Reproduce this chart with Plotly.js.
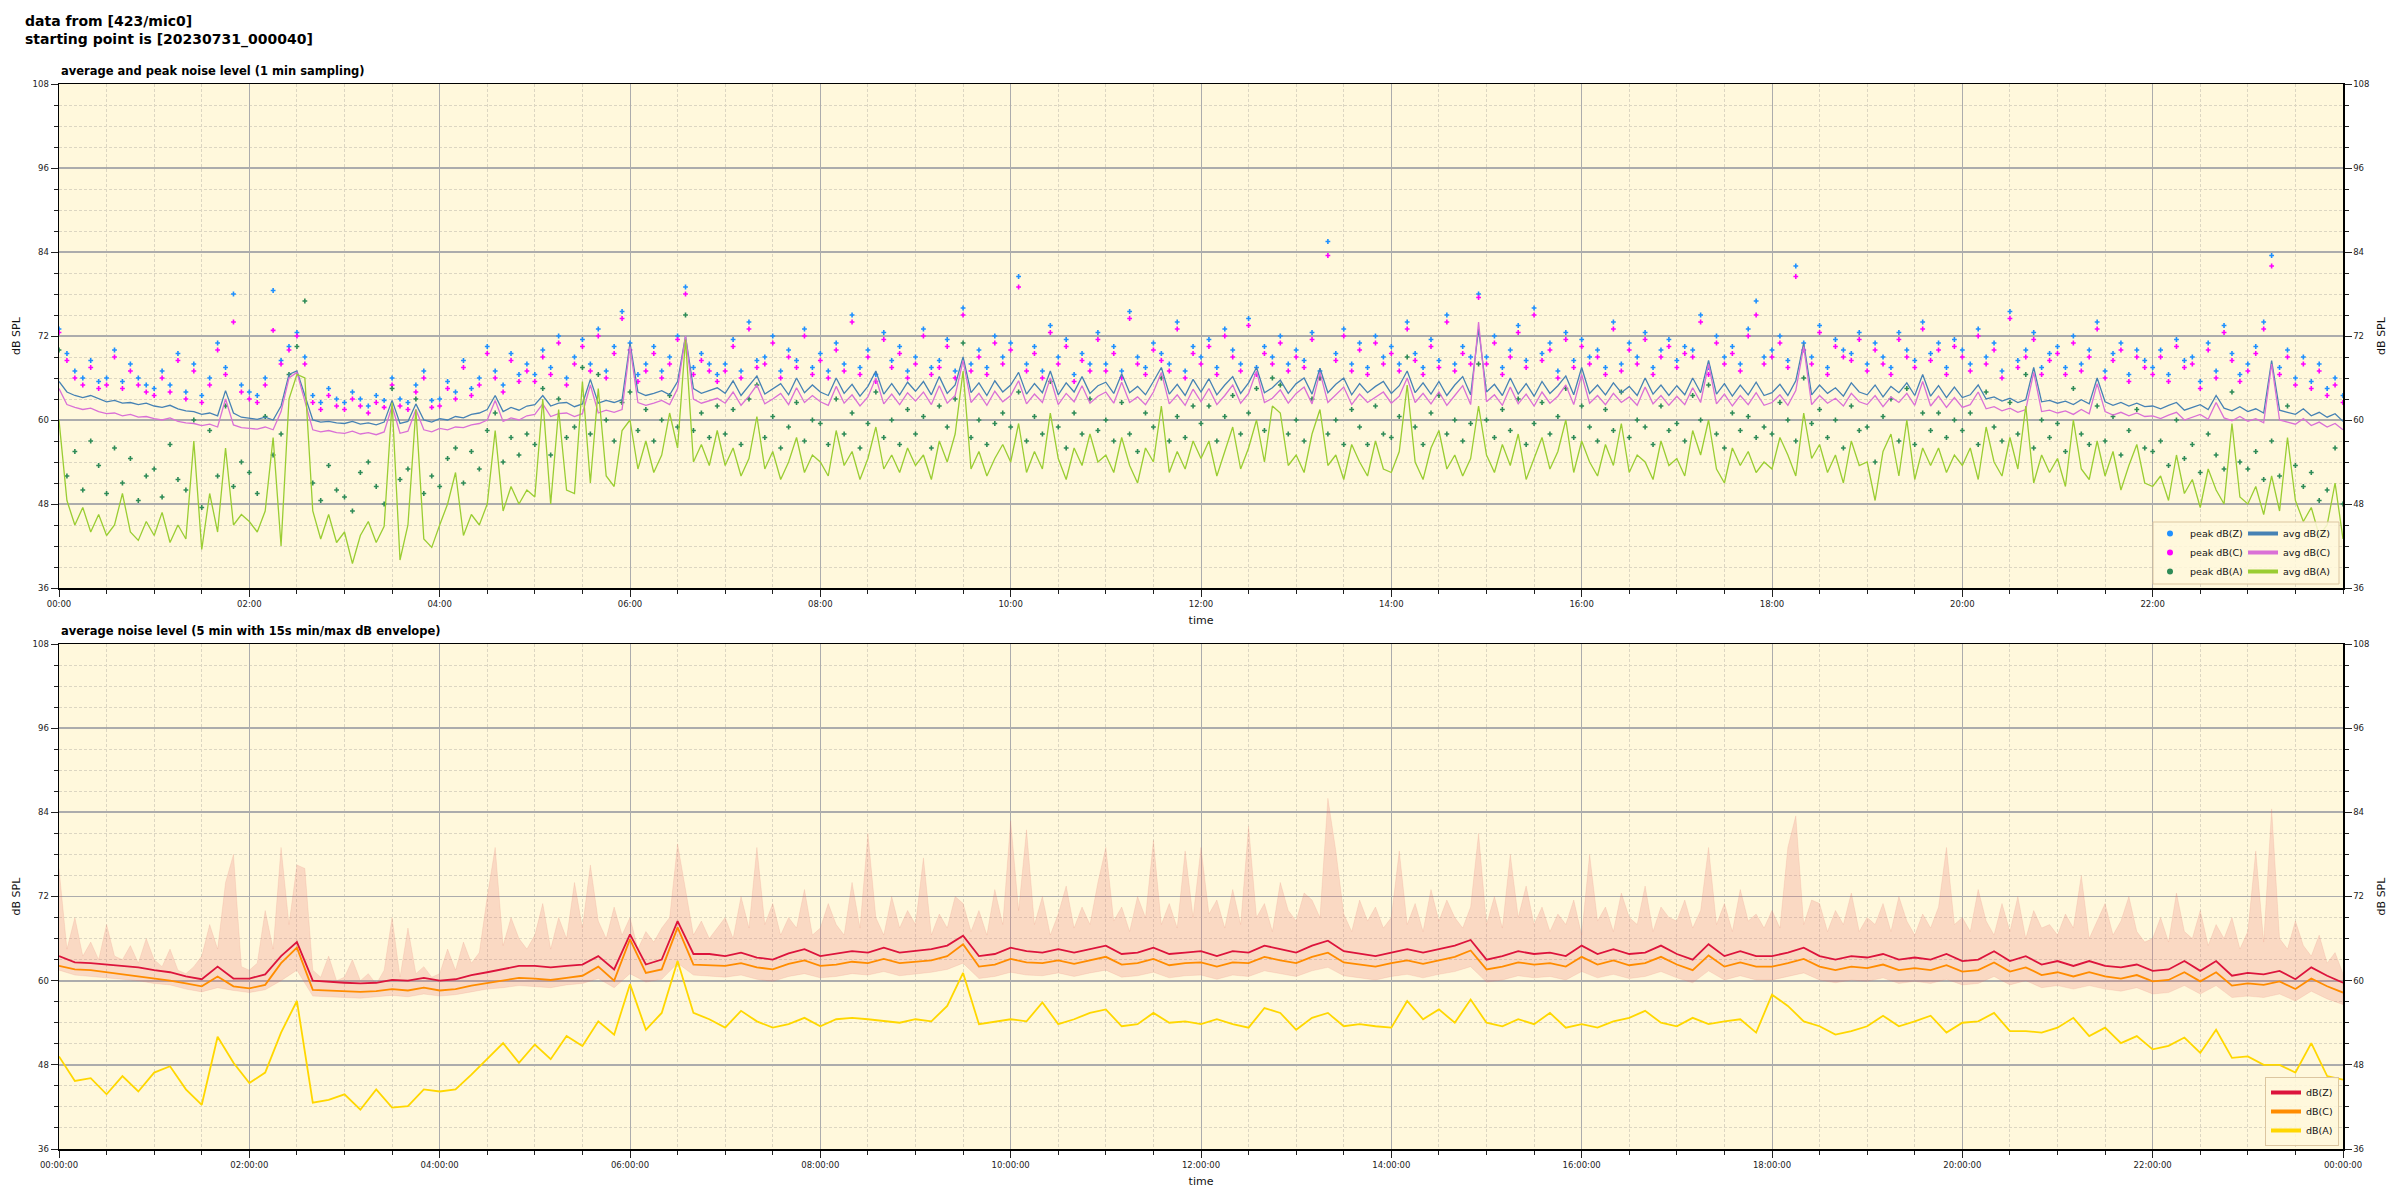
<!DOCTYPE html>
<html><head><meta charset="utf-8">
<script src="https://cdn.plot.ly/plotly-3.0.1.min.js"></script>
<style>html,body{margin:0;padding:0;background:#fff}#chart{width:2400px;height:1200px}</style>
</head><body><div id="chart"></div>
<script>
// ---------- tick labels ----------
const topTickVals = [0,120,240,360,480,600,720,840,960,1080,1200,1320];
const topTickText = ['00:00','02:00','04:00','06:00','08:00','10:00','12:00','14:00','16:00','18:00','20:00','22:00'];
const botTickVals = [0,120,240,360,480,600,720,840,960,1080,1200,1320,1440];
const botTickText = ['00:00:00','02:00:00','04:00:00','06:00:00','08:00:00','10:00:00','12:00:00','14:00:00','16:00:00','18:00:00','20:00:00','22:00:00','00:00:00'];
const yTickVals = [36,48,60,72,84,96,108];

// ---------- top chart: 5-minute samples (minutes from 00:00) ----------
const topStep = 5;
const avgZ = [
65.5,64,63.5,63.2,63.5,63,62.6,62.8,62.4,62.5,62.2,62.4,
62,61.8,62.1,61.6,61.3,61.2,60.8,61.0,60.6,64.2,61.0,60.4,
60.3,60.1,60.4,60.0,62.0,66.5,67.0,63.5,60.0,59.7,59.8,59.6,
59.5,59.8,59.4,59.6,59.3,59.7,62.8,59.5,59.8,62.3,60.0,59.7,
60.2,60.0,60.5,60.3,60.8,61.0,61.5,63.5,61.2,61.8,61.4,62.0,
62.2,63.5,62.0,62.4,62.5,61.9,62.3,65.8,62.4,62.8,62.5,62.9,
71.0,64.0,63.5,63.8,64.2,63.6,65.5,72.0,64.5,63.8,64.2,64.6,
63.8,65.6,63.5,64.9,66.3,63.7,64.5,65.2,63.6,66.0,63.9,65.0,
64.0,63.5,66.0,63.8,65.1,63.4,64.8,67.0,63.7,65.2,63.6,65.4,
64.1,65.5,63.6,66.2,63.8,65.0,69.0,63.9,65.3,63.5,65.6,64.0,
65.0,66.8,63.7,65.2,63.9,67.0,63.6,65.3,64.0,66.2,63.8,64.9,
65.4,63.8,66.6,63.9,64.8,63.6,65.5,67.5,63.7,65.1,63.5,65.8,
64.0,65.9,63.6,65.0,66.2,63.8,65.3,67.5,63.9,64.6,65.7,63.8,
65.2,66.0,63.7,67.4,63.9,65.1,66.0,63.6,65.2,63.9,64.8,65.5,
63.8,64.9,67.0,63.9,65.3,63.7,65.5,63.5,65.0,66.2,63.6,73.0,
64.0,65.1,63.5,66.0,63.7,65.2,63.4,65.5,63.8,64.9,66.3,63.6,
67.5,63.8,65.0,63.6,65.3,63.9,64.8,63.5,66.0,63.7,65.0,63.5,
64.9,63.6,66.0,63.9,68.5,63.7,65.2,63.4,65.0,63.6,65.4,63.5,
63.9,65.1,63.5,65.6,71.0,63.6,65.0,63.8,64.6,63.4,65.3,64.0,
63.6,65.0,63.3,64.8,63.9,65.3,63.5,66.5,63.4,64.9,63.2,64.7,
63.2,63.6,65.0,63.0,63.3,62.7,63.1,62.5,62.9,67.5,62.6,62.8,
62.4,62.7,62.2,62.9,62.3,66.0,62.6,62.1,62.5,62.0,62.4,61.9,
62.0,61.6,62.1,62.5,61.4,61.8,62.2,61.5,63.5,61.7,61.3,61.9,
61.2,61.6,61.0,68.5,61.4,61.1,60.8,61.6,60.6,61.1,60.4,60.9,59.8];
const avgC = [
64.5,62.2,61.8,61.5,61.7,61.2,60.9,61.0,60.6,60.8,60.4,60.5,
60.2,60.0,60.3,59.8,59.6,59.5,59.2,59.4,59.0,63.0,59.3,58.9,
58.8,58.7,59.0,58.6,61.2,66.0,66.8,62.5,58.6,58.3,58.5,58.2,
58.1,58.4,58.0,58.2,57.9,58.3,62.0,58.1,58.4,61.5,58.6,58.3,
58.8,58.6,59.0,58.9,59.3,59.5,60.0,62.8,59.8,60.3,60.0,60.6,
60.8,62.3,60.5,60.9,61.0,60.5,60.9,65.0,61.0,61.4,61.1,61.5,
70.5,62.5,62.1,62.4,62.8,62.2,64.5,72.0,63.0,62.4,62.8,63.1,
62.4,64.0,62.1,63.4,65.0,62.3,63.0,63.8,62.2,64.6,62.5,63.5,
62.6,62.1,64.8,62.4,63.6,62.0,63.3,66.0,62.3,63.7,62.2,63.9,
62.7,64.0,62.2,64.9,62.4,63.5,68.5,62.5,63.8,62.1,64.1,62.6,
63.5,65.6,62.3,63.7,62.5,66.0,62.2,63.8,62.6,64.9,62.4,63.4,
64.0,62.4,65.4,62.5,63.3,62.2,64.0,66.8,62.3,63.6,62.1,64.4,
62.6,64.5,62.2,63.5,65.0,62.4,63.8,67.0,62.5,63.1,64.3,62.4,
63.8,64.7,62.3,66.8,62.5,63.6,64.7,62.2,63.7,62.5,63.3,64.0,
62.4,63.4,66.0,62.5,63.8,62.3,64.0,62.1,63.5,64.9,62.2,74.0,
62.6,63.6,62.1,64.7,62.3,63.7,62.0,64.0,62.4,63.4,65.0,62.2,
66.5,62.4,63.5,62.2,63.8,62.5,63.3,62.1,64.7,62.3,63.5,62.1,
63.4,62.2,64.6,62.5,68.0,62.3,63.7,62.0,63.5,62.2,63.9,62.1,
62.5,63.6,62.1,64.2,70.5,62.2,63.5,62.4,63.1,62.0,63.8,62.6,
62.2,63.5,61.9,63.3,62.5,63.8,62.1,65.5,62.0,63.4,61.8,63.2,
61.8,62.2,64.0,61.6,61.9,61.3,61.7,61.1,61.5,66.8,61.2,61.4,
61.0,61.3,60.8,61.5,60.9,65.2,61.2,60.7,61.1,60.6,61.0,60.5,
60.6,60.2,60.7,61.1,60.0,60.4,60.8,60.1,62.5,60.3,59.9,60.5,
59.8,60.2,59.6,68.0,60.0,59.7,59.4,60.2,59.2,59.7,59.0,59.5,58.6];
const avgA = [
60,48.5,45.0,47.5,44.0,46.5,43.5,45.0,49.5,44.0,42.8,45.5,
43.5,46.8,42.5,45.0,43.0,57.0,41.5,49.5,44.0,56.0,45.0,46.5,
45.5,44.0,47.0,57.5,42.0,63.0,66.5,66.0,47.0,43.0,46.5,42.5,
44.0,39.5,43.5,45.5,42.5,44.8,62.5,40.0,45.0,61.5,43.0,41.8,
45.0,48.0,52.5,43.5,46.5,45.0,48.0,58.5,47.0,50.5,48.0,50.0,
49.0,63.0,48.0,61.5,50.0,49.5,65.5,51.0,64.5,52.0,50.5,58.5,
60.0,53.0,57.0,52.5,55.0,61.0,56.0,71.5,54.0,56.5,53.5,58.5,
53.5,56.0,52.0,54.5,60.5,53.0,55.5,51.5,54.0,57.5,52.5,55.0,
54.0,52.0,58.5,53.5,55.5,51.5,54.5,59.0,53.0,55.0,52.5,56.0,
53.5,55.0,51.5,57.0,54.0,58.0,67.0,53.0,55.5,52.0,54.5,56.5,
54.0,59.5,52.5,55.5,53.0,61.0,54.5,51.5,56.0,53.5,58.0,54.0,
55.0,52.5,57.5,53.5,51.0,56.0,54.0,62.0,52.5,55.5,53.0,57.0,
54.5,57.0,52.0,55.5,59.0,53.0,56.0,60.0,54.0,62.0,61.0,53.5,
55.0,52.5,58.0,61.5,53.5,55.0,51.5,56.5,54.0,52.0,57.0,53.0,
52.5,55.5,65.0,54.0,51.5,56.0,58.5,53.0,55.0,52.0,54.5,62.0,
55.0,52.5,56.5,53.5,58.0,51.5,54.5,57.5,53.0,55.5,60.0,52.5,
57.0,54.0,52.0,56.5,53.5,59.5,52.5,55.0,54.0,51.5,57.0,53.5,
54.5,52.0,58.5,55.0,60.0,53.0,51.0,56.0,53.5,55.5,52.5,54.0,
53.0,57.5,55.0,52.0,61.0,54.5,56.5,52.5,55.0,51.0,57.0,53.5,
54.0,48.5,55.5,58.0,52.0,60.0,51.5,56.0,53.5,56.0,52.5,55.0,
53.5,56.0,51.5,59.0,54.0,52.0,57.5,53.0,62.0,51.0,55.0,52.5,
54.5,50.5,60.0,53.0,51.5,57.0,52.0,55.5,50.0,53.5,56.5,51.0,
50.5,52.0,48.5,55.0,49.5,51.5,47.5,53.0,50.0,48.0,59.5,49.0,
48.0,50.5,46.5,52.0,47.0,57.5,48.5,45.5,47.5,43.5,45.0,51.0,43.0];
const peakZ = [
73,69.5,67,66,68.5,65.5,66,70,65.5,68,66,65,
64.5,67,65,69.5,64,68,63.5,66,71,67.5,78,65,
64,63.5,66,78.5,68.5,70.5,72.5,69,63.5,62.5,64.5,63,
62.5,64,63,62,63.5,62.8,66,63,62.5,65,67,62.8,
63,65.5,64,68.5,64.5,66,70.5,67,65,69.5,66.5,68,
66.5,70,67.5,72,66,69,71.5,68,73,67,70.5,75.5,
71,66.5,68,70.5,67,69,72,79,67.5,69.5,68,66.5,
68,71.5,67,74,68.5,69,72,67,70,68.5,73,67.5,
69.5,67,71,68,75,67.5,70,66.5,72.5,68.5,70.5,67,
69,73,67.5,68.5,71.5,67,76,68,70,67.5,72,69,
71,80.5,68,70.5,67,73.5,69,71.5,66.5,69.5,68,72.5,
68,70.5,67,75.5,69,67.5,71,69.5,68,74,67,70.5,
69,71.5,67.5,73,70,68,74.5,67.5,70.5,69,72,68,
70,68.5,72.5,67,85.5,69.5,73,68,71,67.5,72,69,
70.5,68,74,69.5,67.5,71.5,68.5,75,68,70.5,69,78,
69,72,67.5,70,73.5,68.5,76,69.5,71,67,72.5,68.5,
71.5,69,70,67.5,74,68,71,69,72.5,67.5,70,71.5,
68.5,70.5,70,75,67.5,72,69,70.5,68,73,77,69,
70,72,68.5,82,71,69,73.5,67.5,71.5,70,69.5,72.5,
68,71,69,67.5,72.5,70,68.5,74,69.5,71,67.5,71.5,
70,68,73,69,71,67,75.5,68.5,70,72.5,67.5,69.5,
70.5,67.5,72,68,70,74,67,69.5,71,66.5,70,68.5,
67.5,70,66.5,71.5,68.5,69,65.5,71,67,73.5,69.5,66.5,
68,70.5,74,83.5,67.5,70,66,69,65.5,68,64.5,66,63.5];
const peakC = [
72.5,68.5,66,65,67.5,64.5,65,69,64.5,67,65,64,
63.5,66,64,68.5,63,67,62.5,65,70,66.5,74,64,
63,62.5,65,72.8,68,70,72,68,62.5,61.5,63.5,62,
61.5,63,62,61,62.5,61.8,65,62,61.5,64,66,61.8,
62,64.5,63,67.5,63.5,65,69.5,66,64,68.5,65.5,67,
65.5,69,66.5,71,65,68,70.5,67,72,66,69.5,74.5,
70,65.5,67,69.5,66,68,71.5,78,66.5,68.5,67,65.5,
67,70.5,66,73,67.5,68,71,66,69,67.5,72,66.5,
68.5,66,70,67,74,66.5,69,65.5,71.5,67.5,69.5,66,
68,72,66.5,67.5,70.5,66,75,67,69,66.5,71,68,
70,79,67,69.5,66,72.5,68,70.5,65.5,68.5,67,71.5,
67,69.5,66,74.5,68,66.5,70,68.5,67,73,66,69.5,
68,70.5,66.5,72,69,67,73.5,66.5,69.5,68,71,67,
69,67.5,71.5,66,83.5,68.5,72,67,70,66.5,71,68,
69.5,67,73,68.5,66.5,70.5,67.5,74,67,69.5,68,77.5,
68,71,66.5,69,72.5,67.5,75,68.5,70,66,71.5,67.5,
70.5,68,69,66.5,73,67,70,68,71.5,66.5,69,70.5,
67.5,69.5,69,74,66.5,71,68,69.5,67,72,75,68,
69,71,67.5,80.5,70,68,72.5,66.5,70.5,69,68.5,71.5,
67,70,68,66.5,71.5,69,67.5,73,68.5,70,66.5,70.5,
69,67,72,68,70,66,74.5,67.5,69,71.5,66.5,68.5,
69.5,66.5,71,67,69,73,66,68.5,70,65.5,69,67.5,
66.5,69,65.5,70.5,67.5,68,64.5,70,66,72.5,68.5,65.5,
67,69.5,73,82,66.5,69,65,68,64.5,67,63.5,65,62.5];
const peakA = [
70,52,55.5,50,57,53.5,49.5,56,51,54.5,48.5,52,
53,49,56.5,51.5,50,60,47.5,58.5,52,62,50.5,54,
52.5,49.5,60.5,55,58,66.5,70.5,77,51,48.5,53.5,50,
49,47,52.5,54,50.5,48,64.5,51.5,53,63,49.5,52,
50.5,54.5,56,51,55.5,53,58.5,61,54,57.5,55,58,
56.5,64.5,55,63,57.5,59,67.5,58,66.5,60,57,62.5,
64,58.5,61.5,57,60,63.5,59,75,58.5,61,57.5,62,
58,61.5,56.5,63,65,57.5,60.5,56,59,62.5,57,60,
59.5,56.5,63,58,61,56,59.5,64,57.5,60,56.5,61.5,
58,60.5,56,62,59,63,71,57.5,60,56.5,59.5,61,
59,64,57,60.5,58,65.5,59,56,61,58,63,58.5,
60,57,62.5,58,55.5,61,59,66,57,60.5,57.5,62,
59.5,62,57,60.5,63.5,58,61,64.5,58.5,66,65,58,
60,57,63,66,58,60,56.5,61.5,59,56.5,62,58,
57.5,60.5,69,59,56.5,61,63.5,58,60,57,59.5,68,
60,57.5,61.5,58.5,63,56.5,59.5,62.5,58,60.5,64.5,57.5,
62,59,57,61.5,58.5,64,57.5,60,59,56.5,62,58.5,
59.5,57,63.5,60,65,58,56,61,58.5,60.5,57.5,59,
58,62.5,60,57,66,59.5,61.5,57.5,60,56,62,58.5,
59,54,60.5,63,57,64.5,56.5,61,58.5,61,57.5,60,
58.5,61,56.5,64,59,57,62.5,58,66.5,56,60,57.5,
59.5,55.5,64.5,58,56.5,62,57,60.5,55,58.5,61.5,56,
55.5,57,53.5,60,54.5,56.5,52.5,58,55,53,64,54,
53,55.5,51.5,57,52,62,53.5,50.5,52.5,48.5,50,56,48];

// ---------- bottom chart: 10-minute averages ----------
const botStep = 10;
const levZ = [
63.5,62.6,62.5,62.3,62.1,61.9, 61.5,61.2,60.6,60.2,62.0,60.3,
60.3,60.9,63.5,65.5,60.0,59.8, 59.7,59.6,59.7,60.1,60.0,60.4,
60.0,60.2,60.8,61.2,61.6,62.1, 62.1,61.9,62.1,62.3,63.5,61.6,
66.6,62.3,63.0,68.5,63.8,63.8, 63.5,64.0,63.3,63.0,63.9,64.5,
63.5,63.8,64.2,64.0,64.7,64.0, 64.2,64.5,65.0,66.4,63.5,63.8,
64.7,64.2,64.0,64.5,64.0,64.5, 65.0,63.8,64.0,64.7,63.8,64.0,
64.2,63.5,64.2,64.0,65.0,64.5, 64.0,65.0,65.7,64.2,63.8,63.5,
64.0,64.5,64.0,64.5,65.0,65.8, 63.0,63.5,64.2,63.8,64.0,63.5,
65.0,63.8,64.5,63.8,64.0,65.0, 63.8,63.0,65.2,63.5,64.2,63.5,
63.5,64.0,64.7,63.5,63.0,63.5, 63.3,63.8,63.0,63.3,63.0,63.8,
62.8,63.0,64.2,62.8,63.5,62.3, 62.8,62.1,62.8,62.1,61.9,62.3,
61.4,61.6,62.8,61.4,62.8,60.7, 61.1,60.9,61.4,60.2,61.9,60.7,59.7];
const levC = [
62.1,61.6,61.5,61.2,61.0,60.7, 60.3,60.0,59.6,59.2,60.6,59.2,
58.9,59.4,62.5,64.7,58.7,58.6, 58.5,58.4,58.5,58.8,58.6,59.0,
58.6,58.8,59.3,59.7,60.0,60.4, 60.3,60.1,60.4,60.7,62.0,60.0,
65.9,61.1,61.6,67.6,62.3,62.2, 62.1,62.5,61.9,61.6,62.4,62.9,
62.1,62.3,62.7,62.5,63.1,62.5, 62.7,62.9,63.5,65.2,62.0,62.3,
63.1,62.6,62.5,62.9,62.4,62.9, 63.4,62.3,62.5,63.1,62.2,62.5,
62.6,62.0,62.6,62.5,63.4,62.9, 62.5,63.4,64.0,62.6,62.3,62.0,
62.5,62.9,62.4,62.9,63.4,64.3, 61.6,62.0,62.6,62.3,62.5,62.0,
63.4,62.3,62.9,62.2,62.5,63.4, 62.3,61.5,63.6,62.0,62.6,62.0,
62.0,62.5,63.1,62.0,61.5,62.0, 61.8,62.3,61.5,61.8,61.5,62.2,
61.3,61.5,62.6,61.3,61.9,60.8, 61.2,60.6,61.2,60.6,60.3,60.8,
59.9,60.1,61.2,59.9,61.2,59.3, 59.6,59.4,59.9,58.8,60.3,59.2,58.3];
const levA = [
49.2,45.7,46.1,43.8,46.4,44.2, 46.9,47.8,44.5,42.3,52.0,48.3,
45.4,46.9,52.6,57.1,42.6,43.0, 43.8,41.6,44.5,41.9,42.1,44.5,
44.2,44.5,46.6,48.8,51.1,48.3, 50.9,48.8,52.1,50.7,54.2,52.3,
59.5,53.0,55.4,62.8,55.4,54.5, 53.3,55.7,54.2,53.3,53.8,54.7,
53.5,54.5,54.7,54.5,54.2,54.0, 54.5,54.2,56.4,61.1,53.8,54.2,
54.5,54.2,56.9,53.8,54.5,55.4, 55.9,53.5,53.8,55.4,54.0,54.2,
53.8,54.5,53.8,53.3,56.1,55.4, 53.0,54.7,55.4,53.5,53.8,53.5,
53.3,57.1,54.5,55.9,54.0,57.3, 54.0,53.5,54.5,53.8,55.4,53.3,
53.8,53.3,54.2,54.7,55.7,54.0, 53.5,54.7,53.8,54.2,54.5,52.6,
58.0,56.4,54.2,53.5,52.3,52.8, 53.5,55.0,53.5,54.2,55.0,52.6,
54.0,54.2,55.4,52.8,52.8,52.6, 53.3,54.7,52.1,53.3,51.1,52.1,
50.2,50.7,51.9,49.7,53.0,49.0, 49.2,48.0,48.0,46.9,51.1,46.4,45.9];
// 15 s min/max envelope: max sampled every 5 min, min every 10 min
const envMax = [
76,64.5,69,63.5,65.5,63,68,63.5,63,65,62.5,66,
63,62,64.5,61.5,61,62,63.5,68,64.5,74,78,62,
61.5,62.5,70,64.5,79,68,76.5,76,61.5,60.5,63.5,60,
60.5,63,60,61,59.5,61.5,69,60.5,67.5,61,62,60.5,
61,64.5,61.5,65.5,62.5,64,72,79,65,69,66,64.5,
66.5,71,64.5,69,66,74,67.5,76.5,68.5,66,70.5,66.5,
69,64.5,67,65.5,67.5,69,79.5,73,66.5,68.5,66,67.5,
69,66,72,67.5,79,68,71,66.5,69,67.5,73,66.5,
67.5,71,68,66.5,74,67.5,81,69,66.5,72,67.5,70,
68,77.5,66.5,69.5,67.5,72,71,67,70,66.5,73,68,
82.8,70,81.5,68,72,66.5,69.5,73.5,67.5,70.5,68,74,
79,68.5,70.5,67,72,69,80,68,71,67.5,78.5,69,
79,69.5,71.5,67.5,73,68,82,69,71,67,74,70,
68.5,72.5,71.5,69,86,78.5,69.5,67,71.5,68.5,70.5,67.5,
69,78.5,68,71,67,73,68.5,71.5,69,67.5,70.5,81,
68,72,67.5,78,69,73.5,68,70.5,67,69.5,68,71.5,
66.5,78,68.5,70.5,67,72.5,69,68,73.5,67,70.5,69,
68.5,71.5,67.5,70,79,68,71,67,73,68.5,69.5,67.5,
70,67.5,79,83.5,68,71.5,71,67,70,68,72.5,67,
69,68,71,67,72,68.5,66.5,69.5,67.5,70.5,79,68,
69,67,73,68.5,66.5,71,67,72,66,70,67.5,68,
66.5,69.5,67.5,75,66,68.5,71,66.5,68.5,72,67,65.5,
66,69,65.5,72.5,67,66,70,65,68,66,69,64.5,
67,78.5,65.5,84.5,66,64.5,68.5,65,63.5,66.5,62.5,64,61];
const envMin = [
61.5,60.8,60.6,60.4,60.2,60.0, 59.6,59.4,58.8,58.4,59.0,58.6,
58.3,58.7,60.0,61.5,57.8,57.7, 57.6,57.5,57.7,57.9,57.7,58.1,
57.8,58.0,58.4,58.8,59.0,59.3, 59.2,59.0,59.4,59.6,60.3,59.0,
61.0,59.8,60.2,62.5,60.8,60.6, 60.5,60.8,60.2,59.9,60.6,61.0,
60.4,60.6,61.0,60.8,61.3,60.7, 61.0,61.2,61.6,62.5,60.3,60.6,
61.2,60.8,60.7,61.1,60.6,61.1, 61.5,60.5,60.7,61.2,60.4,60.7,
60.8,60.2,60.8,60.6,61.4,61.0, 60.6,61.4,61.9,60.7,60.4,60.1,
60.6,60.9,60.4,60.9,61.3,62.0, 59.8,60.1,60.7,60.4,60.6,60.1,
61.3,60.4,60.9,60.3,60.6,61.3, 60.4,59.7,61.4,60.1,60.7,60.1,
60.1,60.6,61.1,60.1,59.7,60.1, 59.9,60.4,59.6,59.9,59.6,60.2,
59.4,59.6,60.6,59.4,60.0,59.0, 59.3,58.8,59.3,58.8,58.5,59.0,
58.1,58.3,59.3,58.1,59.3,57.6, 57.8,57.6,58.1,57.1,58.5,57.4,56.6];

// ---------- build traces ----------
const FONT = 'DejaVu Sans, Verdana, sans-serif';
const envX = envMax.map((v,i)=>i*topStep).concat(envMin.map((v,i)=>i*botStep).reverse());
const envY = envMax.concat(envMin.slice().reverse());

function dots(y, name, color){
  return {type:'scatter', mode:'markers', x0:0, dx:topStep, y:y, name:name, showlegend:false,
    marker:{symbol:'cross', size:4, color:color, line:{width:0}}, xaxis:'x', yaxis:'y', hoverinfo:'skip'};
}
function tline(y, name, color){
  return {type:'scatter', mode:'lines', x0:0, dx:topStep, y:y, name:name, showlegend:false,
    line:{color:color, width:1.3}, xaxis:'x', yaxis:'y', hoverinfo:'skip'};
}
function bline(y, name, color){
  return {type:'scatter', mode:'lines', x0:0, dx:botStep, y:y, name:name, showlegend:false,
    line:{color:color, width:1.8}, xaxis:'x2', yaxis:'y2', hoverinfo:'skip'};
}
function legMarker(name, color){
  return {type:'scatter', mode:'markers', x:[null], y:[null], name:name, legend:'legend',
    marker:{symbol:'circle', size:6, color:color}, xaxis:'x', yaxis:'y'};
}
function legLine(name, color, leg, xa, ya){
  return {type:'scatter', mode:'lines', x:[null], y:[null], name:name, legend:leg,
    line:{color:color, width:4}, xaxis:xa, yaxis:ya};
}

const data = [
  dots(peakZ,'peak dB(Z)','#1e90ff'),
  dots(peakC,'peak dB(C)','#ff00ff'),
  dots(peakA,'peak dB(A)','#2e8b57'),
  tline(avgZ,'avg dB(Z)','#4682b4'),
  tline(avgC,'avg dB(C)','#da70d6'),
  tline(avgA,'avg dB(A)','#9acd32'),
  {type:'scatter', mode:'lines', x:envX, y:envY, fill:'toself', fillcolor:'rgba(230,110,110,0.22)',
   line:{color:'rgba(230,120,110,0.3)', width:0.5}, showlegend:false, xaxis:'x2', yaxis:'y2', hoverinfo:'skip'},
  bline(levZ,'dB(Z)','#dc143c'),
  bline(levC,'dB(C)','#ff8c00'),
  bline(levA,'dB(A)','#ffd700'),
  legMarker('peak dB(Z)','#1e90ff'),
  legMarker('peak dB(C)','#ff00ff'),
  legMarker('peak dB(A)','#2e8b57'),
  legLine('avg dB(Z)','#4682b4','legend2','x','y'),
  legLine('avg dB(C)','#da70d6','legend2','x','y'),
  legLine('avg dB(A)','#9acd32','legend2','x','y'),
  legLine('dB(Z)','#dc143c','legend3','x2','y2'),
  legLine('dB(C)','#ff8c00','legend3','x2','y2'),
  legLine('dB(A)','#ffd700','legend3','x2','y2'),
  {type:'scatter', mode:'markers', x:[null], y:[null], xaxis:'x', yaxis:'y3', showlegend:false, hoverinfo:'skip'},
  {type:'scatter', mode:'markers', x:[null], y:[null], xaxis:'x2', yaxis:'y4', showlegend:false, hoverinfo:'skip'}
];

// ---------- layout ----------
const W=2400, H=1200, L=59, R=57, T=84, B=51;
const PW = W-L-R, PH = H-T-B;
const topBottomPx = 588, botTopPx = 644;
const topDom = [(H-B-topBottomPx)/PH, 1];
const botDom = [0, (H-B-botTopPx)/PH];
const px2x = p => (p-L)/PW;
const px2y = p => (H-B-p)/PH;

const tickFont = {family:FONT, size:8.5, color:'#222'};
const axTitleFont = {family:FONT, size:11, color:'#111'};
const minorGrid = '#dcd6c2';
function xAxis(anchor, vals, text){
  return {anchor:anchor, domain:[0,1], range:[0,1440], tickmode:'array', tickvals:vals, ticktext:text,
    ticks:'outside', ticklen:7, tickwidth:1, tickcolor:'#222', tickfont:tickFont,
    showline:true, linecolor:'#000', linewidth:1.5, mirror:true, zeroline:false,
    showgrid:true, gridcolor:'#acacac', gridwidth:1,
    minor:{tickmode:'linear', tick0:0, dtick:30, ticks:'outside', ticklen:4, tickcolor:'#222',
      showgrid:true, gridcolor:minorGrid, griddash:'3px,2px', gridwidth:1},
    title:{text:'time', font:axTitleFont, standoff:8}, fixedrange:true};
}
function yAxis(anchor, dom, side, overlay, grid){
  const a = {anchor:anchor, domain:dom, range:[36,108], tickmode:'array', tickvals:yTickVals,
    ticks:'outside', ticklen:7, tickwidth:1, tickcolor:'#222', tickfont:tickFont, side:side,
    showline:true, linecolor:'#000', linewidth:1.5, mirror:grid, zeroline:false,
    showgrid:grid, gridcolor:'#acacac', gridwidth:1.8,
    minor:{tickmode:'linear', tick0:36, dtick:3, ticks:'outside', ticklen:4, tickcolor:'#222',
      showgrid:grid, gridcolor:minorGrid, griddash:'3px,2px', gridwidth:1},
    title:{text:'dB SPL', font:axTitleFont, standoff:9}, fixedrange:true};
  if(overlay){ a.overlaying = overlay; delete a.domain; }
  return a;
}

const legFont = {family:FONT, size:9.5, color:'#111'};
const layout = {
  width:W, height:H, paper_bgcolor:'#ffffff', plot_bgcolor:'#fff8dc',
  margin:{l:L, r:R, t:T, b:B, pad:0},
  font:{family:FONT},
  xaxis: xAxis('y', topTickVals, topTickText),
  yaxis: yAxis('x', topDom, 'left', null, true),
  yaxis3: yAxis('x', topDom, 'right', 'y', false),
  xaxis2: xAxis('y2', botTickVals, botTickText),
  yaxis2: yAxis('x2', botDom, 'left', null, true),
  yaxis4: yAxis('x2', botDom, 'right', 'y2', false),
  showlegend:true,
  legend:{x:px2x(2150), xanchor:'left', y:px2y(586), yanchor:'bottom', bgcolor:'rgba(0,0,0,0)',
    borderwidth:0, font:legFont, tracegroupgap:0},
  legend2:{x:px2x(2243), xanchor:'left', y:px2y(586), yanchor:'bottom', bgcolor:'rgba(0,0,0,0)',
    borderwidth:0, font:legFont, tracegroupgap:0},
  legend3:{x:px2x(2339), xanchor:'right', y:px2y(1146), yanchor:'bottom', bgcolor:'rgba(255,248,220,0.85)',
    bordercolor:'#dcc6a0', borderwidth:1, font:legFont, tracegroupgap:0},
  shapes:[{type:'rect', xref:'paper', yref:'paper', x0:px2x(2153), x1:px2x(2339), y0:px2y(584), y1:px2y(522),
    fillcolor:'rgba(255,248,220,0.85)', line:{color:'#dcc6a0', width:1}, layer:'above'}],
  annotations:[
    {text:'<b>data from [423/mic0]</b><br><b>starting point is [20230731_000040]</b>', xref:'paper', yref:'paper',
     x:px2x(23), y:px2y(11), xanchor:'left', yanchor:'top', align:'left', showarrow:false,
     font:{family:FONT, size:14, color:'#000'}},
    {text:'<b>average and peak noise level (1 min sampling)</b>', xref:'paper', yref:'paper', x:0, y:topDom[1],
     xanchor:'left', yanchor:'bottom', yshift:4, showarrow:false, font:{family:FONT, size:11.5, color:'#000'}},
    {text:'<b>average noise level (5 min with 15s min/max dB envelope)</b>', xref:'paper', yref:'paper', x:0, y:botDom[1],
     xanchor:'left', yanchor:'bottom', yshift:4, showarrow:false, font:{family:FONT, size:11.5, color:'#000'}}
  ]
};

Plotly.newPlot('chart', data, layout, {staticPlot:true, displayModeBar:false});
</script></body></html>
